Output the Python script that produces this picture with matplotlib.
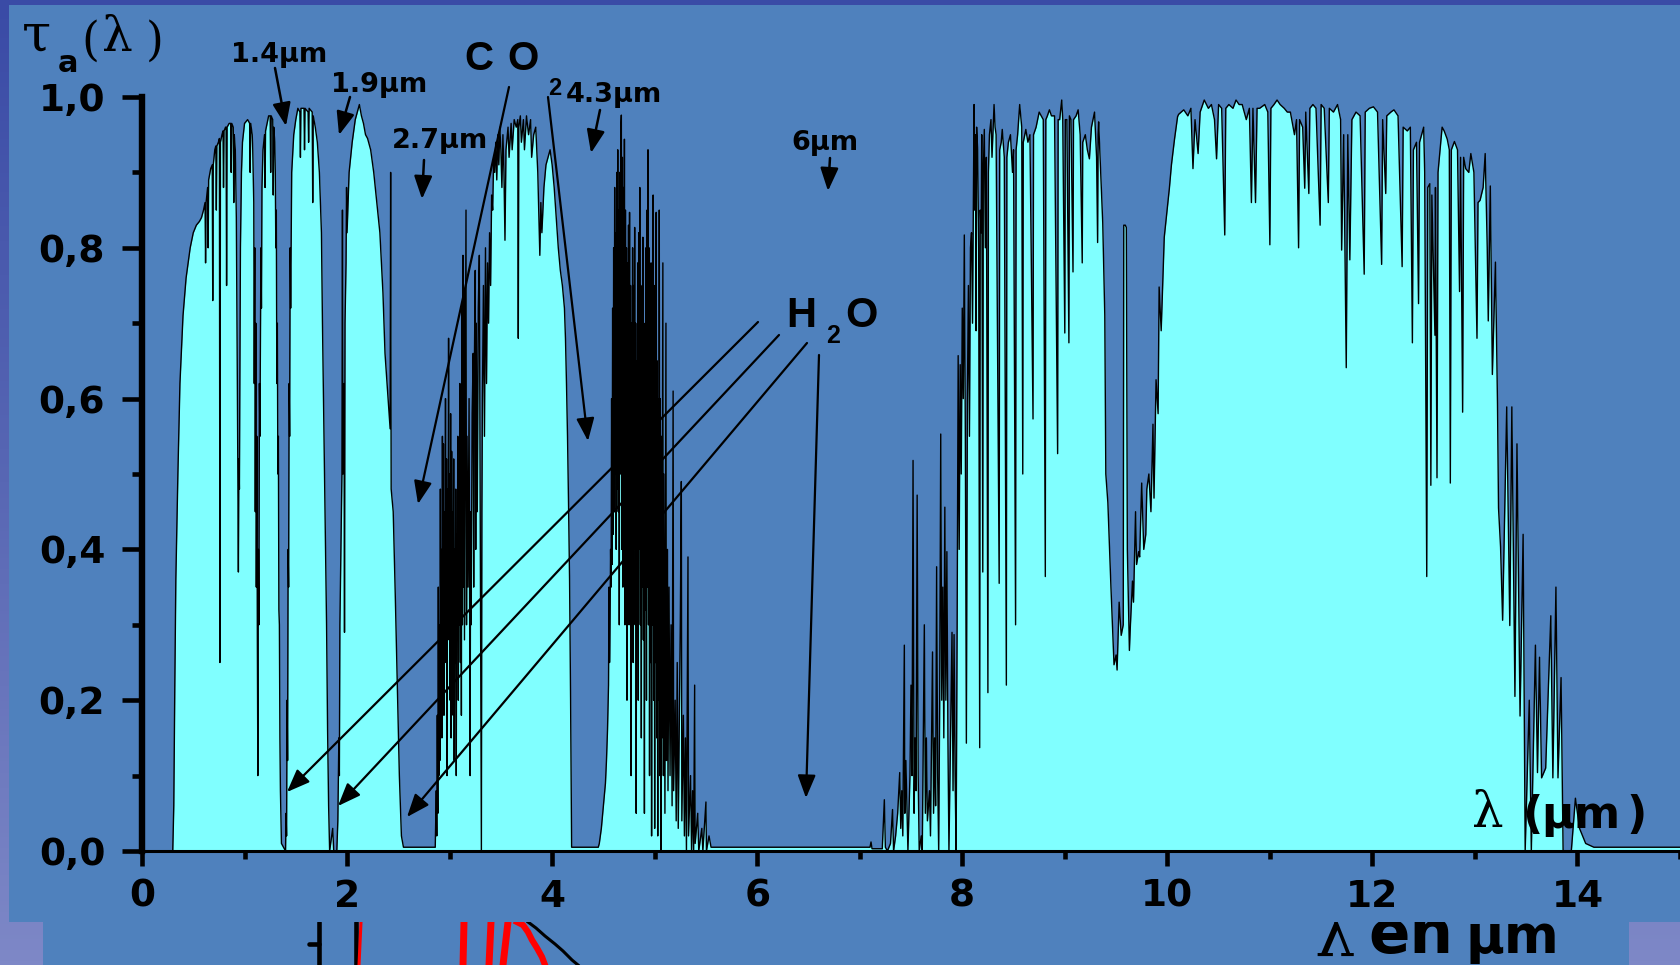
import numpy as np
import matplotlib
matplotlib.use("Agg")
import matplotlib.pyplot as plt
from matplotlib.patches import Rectangle, FancyArrowPatch, ArrowStyle
from matplotlib.colors import LinearSegmentedColormap

W, H, DPI = 1680, 965, 100
PANEL = "#4F81BD"
CYAN = "#80FFFF"

# ---------------- data: atmospheric transmittance tau_a(lambda) ----------------
# window 0.3 - 2.55 um (visible / near IR, H2O bands 0.94, 1.13, 1.4, 1.9)
band_vis_nir = [
    (0.00, 0.000), (0.30, 0.000), (0.31, 0.06), (0.32, 0.22), (0.33, 0.36), (0.35, 0.50),
    (0.37, 0.62), (0.40, 0.71), (0.43, 0.76), (0.47, 0.80), (0.50, 0.82), (0.53, 0.83),
    (0.56, 0.835), (0.58, 0.84), (0.60, 0.85), (0.615, 0.86), (0.62, 0.78), (0.625, 0.86),
    (0.64, 0.88), (0.645, 0.80), (0.65, 0.89), (0.67, 0.905), (0.685, 0.91), (0.69, 0.73),
    (0.695, 0.91), (0.71, 0.93), (0.72, 0.935), (0.725, 0.85), (0.73, 0.935), (0.745, 0.94),
    (0.755, 0.945), (0.76, 0.25), (0.765, 0.94), (0.78, 0.95), (0.79, 0.955), (0.795, 0.88),
    (0.80, 0.955), (0.815, 0.96), (0.82, 0.96), (0.825, 0.75), (0.83, 0.96), (0.85, 0.965),
    (0.865, 0.965), (0.87, 0.90), (0.875, 0.965), (0.89, 0.96), (0.895, 0.86), (0.90, 0.95),
    (0.91, 0.93), (0.92, 0.84), (0.93, 0.62), (0.94, 0.37), (0.945, 0.52), (0.95, 0.48),
    (0.96, 0.80), (0.97, 0.90), (0.98, 0.94), (1.00, 0.965), (1.03, 0.97), (1.05, 0.965),
    (1.055, 0.90), (1.06, 0.965), (1.075, 0.95), (1.08, 0.93), (1.09, 0.86), (1.095, 0.62),
    (1.10, 0.80), (1.105, 0.45), (1.11, 0.70), (1.115, 0.35), (1.12, 0.55), (1.125, 0.28),
    (1.13, 0.10), (1.135, 0.40), (1.14, 0.30), (1.145, 0.62), (1.15, 0.55), (1.16, 0.80),
    (1.165, 0.72), (1.17, 0.88), (1.18, 0.93), (1.195, 0.95), (1.20, 0.88), (1.205, 0.955),
    (1.22, 0.965), (1.235, 0.975), (1.25, 0.975), (1.255, 0.90), (1.26, 0.975), (1.275, 0.97),
    (1.28, 0.87), (1.285, 0.96), (1.295, 0.94), (1.30, 0.90), (1.305, 0.80), (1.31, 0.85),
    (1.315, 0.62), (1.32, 0.70), (1.325, 0.50), (1.33, 0.55), (1.335, 0.32), (1.34, 0.30),
    (1.345, 0.15), (1.35, 0.08), (1.36, 0.01), (1.40, 0.0), (1.405, 0.05), (1.41, 0.02),
    (1.415, 0.20), (1.42, 0.12), (1.425, 0.40), (1.43, 0.35), (1.435, 0.62), (1.44, 0.55),
    (1.445, 0.80), (1.45, 0.72), (1.46, 0.90), (1.48, 0.95), (1.50, 0.97), (1.52, 0.985),
    (1.54, 0.98), (1.545, 0.92), (1.55, 0.985), (1.58, 0.985), (1.585, 0.93), (1.59, 0.985),
    (1.62, 0.98), (1.625, 0.94), (1.63, 0.985), (1.66, 0.98), (1.665, 0.86), (1.67, 0.975),
    (1.69, 0.96), (1.71, 0.94), (1.73, 0.90), (1.75, 0.82), (1.76, 0.70), (1.77, 0.60),
    (1.78, 0.50), (1.79, 0.40), (1.80, 0.30), (1.81, 0.16), (1.82, 0.06), (1.83, 0.0),
    (1.86, 0.03), (1.87, 0.0), (1.90, 0.0), (1.91, 0.04), (1.92, 0.15), (1.925, 0.10),
    (1.93, 0.30), (1.94, 0.40), (1.95, 0.50), (1.955, 0.85), (1.96, 0.50), (1.97, 0.62),
    (1.975, 0.29), (1.98, 0.70), (1.99, 0.78), (1.995, 0.88), (2.00, 0.82), (2.02, 0.90),
    (2.05, 0.94), (2.08, 0.97), (2.10, 0.98), (2.12, 0.99), (2.14, 0.975), (2.16, 0.965),
    (2.18, 0.95), (2.20, 0.945), (2.23, 0.93), (2.26, 0.90), (2.29, 0.86), (2.32, 0.82),
    (2.35, 0.74), (2.37, 0.66), (2.40, 0.60), (2.42, 0.56), (2.425, 0.90), (2.43, 0.48),
    (2.45, 0.45), (2.47, 0.34), (2.49, 0.22), (2.51, 0.10), (2.53, 0.02), (2.55, 0.005),
]

# opaque 2.7 um band
band_2p7_opaque = [(2.70, 0.005), (2.85, 0.005)]

# window 2.86 - 4.2 um
band_3_4 = [
    (2.86, 0.005), (2.87, 0.08), (2.875, 0.02), (2.88, 0.18), (2.885, 0.05), (2.89, 0.35),
    (2.895, 0.10), (2.90, 0.30), (2.905, 0.12), (2.91, 0.48), (2.915, 0.20), (2.92, 0.40),
    (2.925, 0.15), (2.93, 0.55), (2.935, 0.22), (2.94, 0.54), (2.945, 0.18), (2.95, 0.45),
    (2.955, 0.28), (2.96, 0.60), (2.965, 0.25), (2.97, 0.52), (2.975, 0.10), (2.98, 0.48),
    (2.985, 0.30), (2.99, 0.68), (2.995, 0.28), (3.00, 0.50), (3.005, 0.20), (3.01, 0.58),
    (3.015, 0.15), (3.02, 0.53), (3.025, 0.30), (3.03, 0.45), (3.035, 0.18), (3.04, 0.52),
    (3.045, 0.12), (3.05, 0.40), (3.055, 0.25), (3.06, 0.48), (3.065, 0.10), (3.07, 0.42),
    (3.075, 0.28), (3.08, 0.55), (3.085, 0.20), (3.09, 0.50), (3.095, 0.30), (3.10, 0.62),
    (3.105, 0.25), (3.11, 0.58), (3.115, 0.18), (3.12, 0.72), (3.125, 0.30), (3.13, 0.79),
    (3.135, 0.35), (3.14, 0.74), (3.145, 0.28), (3.16, 0.85), (3.165, 0.30), (3.17, 0.55),
    (3.18, 0.35), (3.19, 0.60), (3.20, 0.10), (3.205, 0.45), (3.21, 0.30), (3.22, 0.58),
    (3.23, 0.66), (3.235, 0.35), (3.24, 0.62), (3.25, 0.77), (3.255, 0.40), (3.26, 0.70),
    (3.27, 0.45), (3.28, 0.72), (3.29, 0.79), (3.30, 0.40), (3.31, 0.0), (3.315, 0.45),
    (3.32, 0.60), (3.33, 0.75), (3.34, 0.55), (3.35, 0.80), (3.36, 0.62), (3.37, 0.78),
    (3.38, 0.70), (3.39, 0.82), (3.40, 0.75), (3.41, 0.87), (3.42, 0.85), (3.43, 0.92),
    (3.44, 0.90), (3.45, 0.94), (3.46, 0.89), (3.47, 0.95), (3.48, 0.91), (3.49, 0.96),
    (3.50, 0.93), (3.51, 0.88), (3.52, 0.95), (3.53, 0.90), (3.54, 0.81), (3.55, 0.93),
    (3.57, 0.96), (3.58, 0.92), (3.60, 0.965), (3.61, 0.93), (3.63, 0.97), (3.65, 0.96),
    (3.665, 0.97), (3.67, 0.68), (3.675, 0.96), (3.69, 0.975), (3.70, 0.94), (3.72, 0.97),
    (3.73, 0.93), (3.75, 0.975), (3.77, 0.95), (3.79, 0.97), (3.80, 0.92), (3.82, 0.95),
    (3.84, 0.96), (3.86, 0.90), (3.88, 0.79), (3.89, 0.86), (3.90, 0.82), (3.92, 0.88),
    (3.94, 0.91), (3.96, 0.92), (3.98, 0.93), (4.00, 0.91), (4.02, 0.88), (4.04, 0.84),
    (4.06, 0.80), (4.08, 0.77), (4.10, 0.75), (4.12, 0.72), (4.13, 0.68), (4.14, 0.62),
    (4.15, 0.55), (4.16, 0.46), (4.17, 0.36), (4.18, 0.20), (4.19, 0.005),
]

# opaque CO2 4.3 um band
band_4p3_opaque = [(4.30, 0.005), (4.45, 0.005)]

# window 4.45 - 5.6 um
band_4p5_5p5 = [
    (4.46, 0.01), (4.48, 0.03), (4.50, 0.06), (4.52, 0.09), (4.53, 0.12), (4.54, 0.16),
    (4.55, 0.22), (4.555, 0.35), (4.56, 0.25), (4.565, 0.30), (4.57, 0.40), (4.575, 0.35),
    (4.58, 0.60), (4.585, 0.38), (4.59, 0.72), (4.595, 0.42), (4.60, 0.80), (4.605, 0.45),
    (4.61, 0.88), (4.615, 0.50), (4.62, 0.82), (4.625, 0.40), (4.63, 0.90), (4.635, 0.48),
    (4.64, 0.93), (4.645, 0.45), (4.65, 0.85), (4.655, 0.30), (4.66, 0.90), (4.665, 0.50),
    (4.67, 0.96), (4.675, 0.976), (4.68, 0.40), (4.685, 0.92), (4.69, 0.35), (4.695, 0.88),
    (4.70, 0.45), (4.705, 0.944), (4.71, 0.30), (4.715, 0.85), (4.72, 0.40), (4.725, 0.80),
    (4.73, 0.20), (4.735, 0.78), (4.74, 0.42), (4.745, 0.83), (4.75, 0.30), (4.755, 0.847),
    (4.76, 0.35), (4.765, 0.75), (4.77, 0.10), (4.775, 0.70), (4.78, 0.38), (4.785, 0.80),
    (4.79, 0.25), (4.795, 0.75), (4.80, 0.40), (4.805, 0.827), (4.81, 0.30), (4.815, 0.70),
    (4.82, 0.05), (4.825, 0.65), (4.83, 0.35), (4.835, 0.78), (4.84, 0.20), (4.845, 0.82),
    (4.85, 0.40), (4.855, 0.88), (4.86, 0.30), (4.865, 0.75), (4.87, 0.15), (4.875, 0.72),
    (4.88, 0.35), (4.885, 0.814), (4.89, 0.28), (4.895, 0.70), (4.90, 0.05), (4.905, 0.68),
    (4.91, 0.32), (4.915, 0.80), (4.92, 0.20), (4.925, 0.85), (4.93, 0.35), (4.935, 0.93),
    (4.94, 0.30), (4.945, 0.80), (4.95, 0.10), (4.955, 0.72), (4.96, 0.25), (4.965, 0.78),
    (4.97, 0.02), (4.975, 0.65), (4.98, 0.30), (4.985, 0.87), (4.99, 0.20), (4.995, 0.75),
    (5.00, 0.03), (5.005, 0.70), (5.01, 0.25), (5.015, 0.847), (5.02, 0.15), (5.025, 0.65),
    (5.03, 0.02), (5.035, 0.60), (5.04, 0.20), (5.045, 0.85), (5.05, 0.10), (5.055, 0.60),
    (5.06, 0.0), (5.065, 0.55), (5.07, 0.15), (5.08, 0.78), (5.085, 0.10), (5.09, 0.50),
    (5.10, 0.05), (5.11, 0.70), (5.115, 0.12), (5.125, 0.40), (5.13, 0.08), (5.14, 0.35),
    (5.15, 0.10), (5.16, 0.30), (5.17, 0.06), (5.18, 0.61), (5.185, 0.08), (5.20, 0.20),
    (5.21, 0.04), (5.22, 0.25), (5.23, 0.03), (5.25, 0.30), (5.26, 0.49), (5.265, 0.04),
    (5.28, 0.18), (5.29, 0.02), (5.30, 0.15), (5.31, 0.0), (5.325, 0.39), (5.33, 0.02),
    (5.35, 0.10), (5.36, 0.0), (5.37, 0.08), (5.38, 0.0), (5.39, 0.22), (5.395, 0.01),
    (5.42, 0.05), (5.43, 0.0), (5.46, 0.03), (5.47, 0.0), (5.50, 0.065), (5.505, 0.0),
    (5.53, 0.02), (5.55, 0.005),
]

# opaque 6 um H2O band
band_6_opaque = [(5.60, 0.005), (7.05, 0.005), (7.10, 0.005), (7.11, 0.012), (7.12, 0.003),
                 (7.20, 0.003)]

# window 7.2 - 15 um (with O3 9.6 um band)
band_8_14 = [
    (7.22, 0.003), (7.24, 0.068), (7.25, 0.005), (7.27, 0.0), (7.30, 0.01), (7.32, 0.055),
    (7.33, 0.0), (7.35, 0.02), (7.37, 0.05), (7.39, 0.104), (7.40, 0.03), (7.41, 0.08),
    (7.42, 0.02), (7.435, 0.273), (7.44, 0.05), (7.45, 0.12), (7.47, 0.0), (7.49, 0.10),
    (7.50, 0.22), (7.51, 0.10), (7.52, 0.518), (7.53, 0.05), (7.54, 0.15), (7.55, 0.08),
    (7.56, 0.472), (7.57, 0.10), (7.58, 0.0), (7.60, 0.02), (7.61, 0.0), (7.63, 0.30),
    (7.64, 0.05), (7.65, 0.15), (7.66, 0.04), (7.68, 0.08), (7.69, 0.02), (7.71, 0.264),
    (7.72, 0.05), (7.73, 0.15), (7.74, 0.06), (7.75, 0.377), (7.76, 0.10), (7.77, 0.0),
    (7.78, 0.20), (7.79, 0.553), (7.80, 0.20), (7.81, 0.35), (7.82, 0.15), (7.83, 0.456),
    (7.84, 0.20), (7.85, 0.397), (7.86, 0.15), (7.87, 0.0), (7.88, 0.10), (7.90, 0.29),
    (7.91, 0.08), (7.92, 0.287), (7.93, 0.10), (7.94, 0.0), (7.95, 0.30), (7.96, 0.657),
    (7.97, 0.40), (7.98, 0.645), (7.99, 0.50), (8.00, 0.72), (8.01, 0.60), (8.02, 0.817),
    (8.03, 0.55), (8.04, 0.143), (8.05, 0.60), (8.06, 0.75), (8.07, 0.55), (8.08, 0.80),
    (8.09, 0.82), (8.10, 0.70), (8.115, 0.99), (8.12, 0.85), (8.13, 0.95), (8.135, 0.69),
    (8.14, 0.96), (8.15, 0.93), (8.16, 0.80), (8.17, 0.137), (8.175, 0.85), (8.185, 0.82),
    (8.19, 0.95), (8.20, 0.37), (8.205, 0.90), (8.215, 0.957), (8.225, 0.80), (8.235, 0.92),
    (8.25, 0.21), (8.255, 0.90), (8.265, 0.95), (8.28, 0.97), (8.29, 0.92), (8.31, 0.99),
    (8.32, 0.96), (8.33, 0.95), (8.36, 0.355), (8.365, 0.93), (8.38, 0.94), (8.39, 0.957),
    (8.41, 0.92), (8.43, 0.22), (8.435, 0.92), (8.45, 0.94), (8.47, 0.95), (8.49, 0.90),
    (8.50, 0.93), (8.52, 0.30), (8.525, 0.93), (8.54, 0.95), (8.56, 0.99), (8.58, 0.96),
    (8.59, 0.50), (8.595, 0.94), (8.61, 0.95), (8.62, 0.957), (8.64, 0.94), (8.66, 0.95),
    (8.69, 0.573), (8.695, 0.95), (8.72, 0.96), (8.75, 0.98), (8.77, 0.975), (8.79, 0.97),
    (8.81, 0.364), (8.815, 0.97), (8.83, 0.975), (8.85, 0.983), (8.87, 0.975), (8.90, 0.975),
    (8.93, 0.527), (8.935, 0.97), (8.95, 0.97), (8.97, 0.996), (8.98, 0.97), (9.00, 0.687),
    (9.005, 0.97), (9.02, 0.97), (9.04, 0.674), (9.045, 0.975), (9.06, 0.97), (9.08, 0.768),
    (9.085, 0.97), (9.11, 0.975), (9.13, 0.983), (9.15, 0.95), (9.17, 0.78), (9.175, 0.94),
    (9.20, 0.95), (9.22, 0.93), (9.24, 0.918), (9.26, 0.96), (9.29, 0.98), (9.31, 0.92),
    (9.32, 0.807), (9.325, 0.95), (9.33, 0.967), (9.35, 0.90), (9.37, 0.833), (9.39, 0.71),
    (9.40, 0.50), (9.42, 0.462), (9.45, 0.35), (9.48, 0.247), (9.50, 0.26), (9.51, 0.24),
    (9.53, 0.33), (9.55, 0.286), (9.57, 0.30), (9.575, 0.83), (9.59, 0.83), (9.60, 0.827),
    (9.61, 0.40), (9.63, 0.266), (9.64, 0.30), (9.66, 0.358), (9.67, 0.33), (9.69, 0.45),
    (9.70, 0.38), (9.72, 0.397), (9.73, 0.39), (9.75, 0.488), (9.77, 0.40), (9.79, 0.42),
    (9.80, 0.48), (9.82, 0.50), (9.84, 0.45), (9.86, 0.566), (9.87, 0.468), (9.89, 0.625),
    (9.91, 0.58), (9.92, 0.748), (9.94, 0.69), (9.97, 0.814), (9.99, 0.84), (10.02, 0.879),
    (10.04, 0.91), (10.07, 0.944), (10.10, 0.974), (10.11, 0.977), (10.16, 0.983),
    (10.20, 0.975), (10.23, 0.985), (10.25, 0.905), (10.27, 0.97), (10.30, 0.925),
    (10.32, 0.98), (10.36, 0.996), (10.40, 0.985), (10.43, 0.99), (10.46, 0.97),
    (10.48, 0.918), (10.50, 0.99), (10.53, 0.985), (10.56, 0.817), (10.57, 0.985),
    (10.60, 0.99), (10.64, 0.985), (10.67, 0.996), (10.70, 0.99), (10.73, 0.99),
    (10.77, 0.97), (10.80, 0.985), (10.82, 0.86), (10.835, 0.985), (10.86, 0.86),
    (10.875, 0.985), (10.90, 0.985), (10.95, 0.99), (10.98, 0.98), (11.00, 0.804),
    (11.01, 0.985), (11.04, 0.99), (11.07, 0.996), (11.10, 0.99), (11.14, 0.985),
    (11.17, 0.98), (11.20, 0.98), (11.24, 0.95), (11.26, 0.97), (11.28, 0.80), (11.29, 0.97),
    (11.32, 0.96), (11.34, 0.879), (11.35, 0.98), (11.38, 0.872), (11.39, 0.985),
    (11.42, 0.99), (11.45, 0.985), (11.49, 0.83), (11.50, 0.99), (11.53, 0.985),
    (11.57, 0.86), (11.58, 0.985), (11.62, 0.98), (11.66, 0.99), (11.69, 0.97),
    (11.70, 0.797), (11.72, 0.95), (11.745, 0.641), (11.76, 0.95), (11.78, 0.784),
    (11.80, 0.97), (11.84, 0.98), (11.88, 0.975), (11.92, 0.765), (11.93, 0.98),
    (11.97, 0.985), (12.01, 0.987), (12.05, 0.98), (12.09, 0.778), (12.10, 0.97),
    (12.13, 0.872), (12.14, 0.975), (12.18, 0.98), (12.21, 0.983), (12.25, 0.975),
    (12.29, 0.775), (12.30, 0.96), (12.34, 0.955), (12.37, 0.96), (12.39, 0.674),
    (12.40, 0.93), (12.43, 0.94), (12.45, 0.726), (12.46, 0.94), (12.48, 0.95),
    (12.50, 0.96), (12.51, 0.90), (12.53, 0.364), (12.54, 0.88), (12.56, 0.885),
    (12.57, 0.485), (12.58, 0.87), (12.61, 0.684), (12.615, 0.88), (12.63, 0.495),
    (12.64, 0.90), (12.68, 0.96), (12.70, 0.955), (12.73, 0.944), (12.75, 0.93),
    (12.76, 0.488), (12.77, 0.93), (12.80, 0.941), (12.83, 0.93), (12.85, 0.742),
    (12.86, 0.92), (12.88, 0.582), (12.89, 0.92), (12.91, 0.905), (12.94, 0.90),
    (12.96, 0.925), (12.99, 0.90), (13.02, 0.68), (13.03, 0.86), (13.05, 0.863),
    (13.08, 0.88), (13.10, 0.925), (13.12, 0.80), (13.13, 0.703), (13.15, 0.882),
    (13.17, 0.632), (13.20, 0.781), (13.22, 0.593), (13.23, 0.455), (13.25, 0.403),
    (13.27, 0.306), (13.31, 0.589), (13.34, 0.299), (13.36, 0.589), (13.39, 0.205),
    (13.41, 0.54), (13.44, 0.179), (13.47, 0.42), (13.49, 0.0), (13.53, 0.20), (13.55, 0.0),
    (13.59, 0.273), (13.61, 0.104), (13.63, 0.257), (13.65, 0.097), (13.69, 0.11),
    (13.74, 0.312), (13.76, 0.097), (13.79, 0.35), (13.81, 0.097), (13.84, 0.23),
    (13.86, 0.0), (13.89, 0.0), (13.94, 0.0), (13.98, 0.07), (14.02, 0.03), (14.08, 0.01),
    (14.16, 0.005), (15.0, 0.005),
]

x_major = [0, 2, 4, 6, 8, 10, 12, 14]
x_minor = [1, 3, 5, 7, 9, 11, 13, 15]
x_labels = ["0", "2", "4", "6", "8", "10", "12", "14"]
y_major = [0.0, 0.2, 0.4, 0.6, 0.8, 1.0]
y_minor = [0.1, 0.3, 0.5, 0.7, 0.9]
y_labels = ["0,0", "0,2", "0,4", "0,6", "0,8", "1,0"]

# remnant of an underlying slide chart (visible strip below the main picture)
under_black_strokes = [[(319, 922), (319, 965)], [(309, 944), (319, 944)], [(356, 922), (356, 965)]]
under_red_strokes = [[(464, 922), (463, 965)], [(491, 922), (489, 965)], [(508, 922), (503, 965)]]
under_red_thin = [(361, 922), (359, 965)]
under_red_curve = [(517, 922), (523, 925), (528, 932), (532, 940), (537, 948), (542, 957), (545, 965)]
under_black_curve = [(528, 922), (536, 928), (545, 936), (555, 944), (563, 951), (572, 960), (578, 965)]


def fx(x):
    return x / W


def fy(y):
    return 1.0 - y / H


fig = plt.figure(figsize=(W / DPI, H / DPI), dpi=DPI)

# slide background gradient
bg = fig.add_axes([0, 0, 1, 1], zorder=-10)
grad = np.linspace(0, 1, 256).reshape(-1, 1)
cmap = LinearSegmentedColormap.from_list("bg", ["#3A4BA6", "#5867B4", "#7E88C7"])
bg.imshow(grad, aspect="auto", cmap=cmap, extent=[0, 1, 0, 1], origin="upper")
bg.set_axis_off()

# underlying slide picture (lower strip)
fig.add_artist(Rectangle((fx(43), 0), fx(1629) - fx(43), fy(880), transform=fig.transFigure,
                         facecolor=PANEL, edgecolor="none", zorder=-8))
ax_low = fig.add_axes([fx(43), 0, fx(1629) - fx(43), fy(880)], zorder=-7)
ax_low.set_xlim(43, 1629)
ax_low.set_ylim(965, 880)
ax_low.set_axis_off()
for s in under_black_strokes:
    xs, ys = zip(*s)
    ax_low.plot(xs, ys, color="black", lw=3.3, solid_capstyle="round")
for s in under_red_strokes:
    xs, ys = zip(*s)
    ax_low.plot(xs, ys, color="red", lw=5)
xs, ys = zip(*under_red_thin)
ax_low.plot(xs, ys, color="red", lw=2.2)
xs, ys = zip(*under_red_curve)
ax_low.plot(xs, ys, color="red", lw=4.5)
xs, ys = zip(*under_black_curve)
ax_low.plot(xs, ys, color="black", lw=2.2)
ax_low.text(1314, 956, "λ", fontsize=46, family="DejaVu Serif", color="black",
            ha="left", va="baseline")
ax_low.text(1368, 953, "en", fontsize=44, family="DejaVu Sans", fontweight="bold",
            color="black", ha="left", va="baseline")
ax_low.text(1466, 953, "µm", fontsize=38, family="DejaVu Sans", fontweight="bold",
            color="black", ha="left", va="baseline")

# main picture panel
fig.add_artist(Rectangle((fx(9), fy(922)), 1 - fx(9), fy(5) - fy(922), transform=fig.transFigure,
                         facecolor=PANEL, edgecolor="none", zorder=-5))

# main axes
ax = fig.add_axes([fx(142), fy(851), 1 - fx(142), fy(97) - fy(851)], zorder=0)
ax.patch.set_visible(False)

bands = [band_vis_nir, band_2p7_opaque, band_3_4, band_4p3_opaque, band_4p5_5p5,
         band_6_opaque, band_8_14]
data = np.array([p for b in bands for p in b])
lam, tau = data[:, 0], data[:, 1]
ax.fill_between(lam, tau, 0, color=CYAN, lw=0, zorder=1)
ax.plot(lam, tau, color="black", lw=1.0, zorder=2, clip_on=False)

ax.set_xlim(0, 15)
ax.set_ylim(0, 1.0)
for side in ("top", "right"):
    ax.spines[side].set_visible(False)
ax.spines["left"].set_linewidth(4.6)
ax.spines["bottom"].set_linewidth(2.2)

ax.set_xticks(x_major)
ax.set_xticks(x_minor, minor=True)
ax.set_xticklabels(x_labels)
ax.set_yticks(y_major)
ax.set_yticks(y_minor, minor=True)
ax.set_yticklabels(y_labels)
ax.tick_params(axis="x", which="major", direction="out", length=11, width=3.3, pad=9,
               labelsize=27)
ax.tick_params(axis="x", which="minor", direction="out", length=6, width=3.3)
ax.tick_params(axis="y", which="major", direction="out", length=14.5, width=3.3, pad=12,
               labelsize=27)
ax.tick_params(axis="y", which="minor", direction="out", length=7.5, width=3.3)
for lab in ax.get_xticklabels() + ax.get_yticklabels():
    lab.set_fontweight("bold")
    lab.set_family("DejaVu Sans")

BOLD = dict(family="DejaVu Sans", fontweight="bold", color="black")
ARIAL = dict(family="Liberation Sans", fontweight="bold", color="black")
SERIF = dict(family="DejaVu Serif", color="black")


def put(x, y, s, size, style, ha="left", va="baseline"):
    fig.text(fx(x), fy(y), s, fontsize=size, ha=ha, va=va, zorder=6, **style)


# y-axis title tau_a(lambda)
put(22, 50, "τ", 38, SERIF)
put(58, 72, "a", 22, BOLD)
put(81, 55, "(", 33, SERIF)
put(102, 51, "λ", 35, SERIF)
put(146, 55, ")", 33, SERIF)

# band labels
put(231, 62, "1.4µm", 19.5, BOLD)
put(331, 92, "1.9µm", 19.5, BOLD)
put(392, 148, "2.7µm", 19.5, BOLD)
put(566, 102, "4.3µm", 19.5, BOLD)
put(791, 150, "6µm", 19.5, BOLD)
put(464, 70, "C", 29, ARIAL)
put(507, 70, "O", 29, ARIAL)
put(548, 95, "2", 17, ARIAL)
put(786, 327, "H", 30, ARIAL)
put(826, 343, "2", 18, ARIAL)
put(845, 327, "O", 30, ARIAL)

# x-axis label inside the frame
put(1472, 827, "λ", 36, SERIF)
put(1522, 828, "(", 32, BOLD)
put(1541, 828, "µm", 32, BOLD)
put(1626, 828, ")", 32, BOLD)


def arrow(x0, y0, x1, y1, lw=1.8, hl=14, hw=5.5):
    a = FancyArrowPatch((fx(x0), fy(y0)), (fx(x1), fy(y1)), transform=fig.transFigure,
                        arrowstyle=ArrowStyle("-|>", head_length=hl, head_width=hw),
                        mutation_scale=1, lw=lw, color="black", shrinkA=0, shrinkB=0,
                        zorder=7)
    fig.add_artist(a)


# short band arrows
arrow(275, 68, 286, 126)
arrow(350, 97, 339, 135)
arrow(424, 160, 422, 199)
arrow(600, 110, 591, 153)
arrow(830, 158, 828, 191)
# CO2 arrows
arrow(509, 87, 418, 504, lw=1.6)
arrow(548, 97, 588, 441, lw=1.6)
# H2O arrows
arrow(758, 322, 287, 792, lw=1.6)
arrow(779, 335, 338, 806, lw=1.6)
arrow(807, 343, 407, 817, lw=1.6)
arrow(819, 355, 806, 798, lw=1.6)

fig.savefig("out.png", dpi=DPI)
